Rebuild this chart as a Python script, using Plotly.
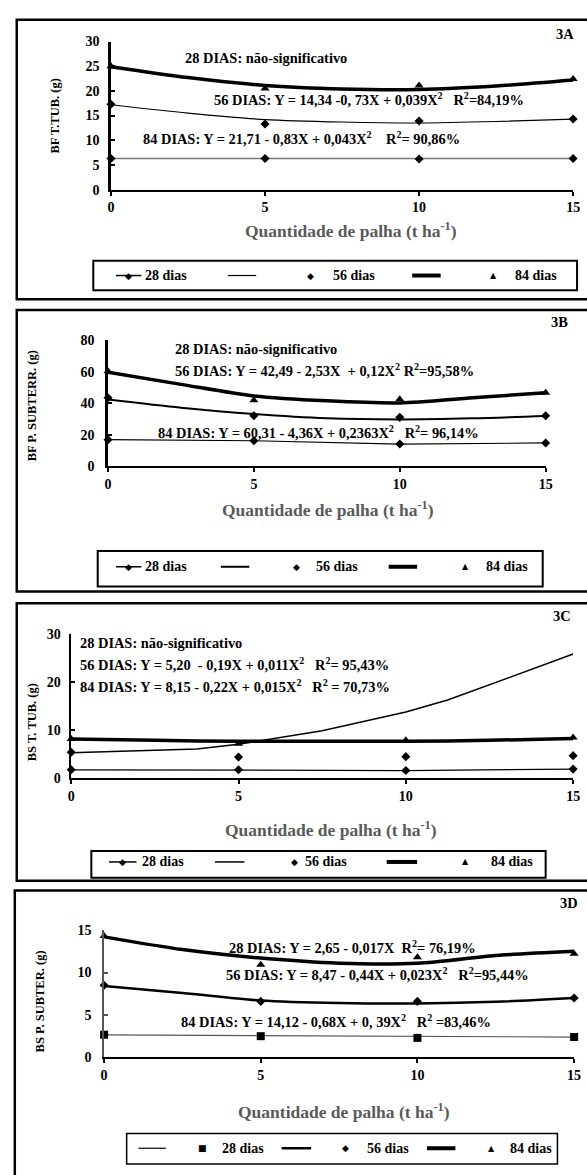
import plotly.graph_objects as go

# ---------------- data ----------------
x_pts = [0, 5, 10, 15]
x_fit = [0, 2.5, 5, 7.5, 10, 12.5, 15]
legend_labels = ["28 dias", "56 dias", "84 dias"]
x_ticks = [0, 5, 10, 15]

# 3A - BF T.TUB.
a_28 = [6.3, 6.3, 6.2, 6.3]
a_56 = [17.3, 13.3, 13.9, 14.3]
a_84 = [25.0, 20.5, 21.1, 22.4]
a_56_fit = [17.2, 15.5, 14.2, 13.7, 13.5, 13.8, 14.3]
a_84_fit = [24.9, 22.7, 21.1, 20.4, 20.3, 21.0, 22.2]

# 3B - BF P. SUBTERR.
b_28 = [16.8, 16.1, 14.0, 14.7]
b_56 = [43.5, 32.0, 31.0, 32.0]
b_84 = [60.3, 41.9, 42.5, 46.7]
b_56_fit = [42.3, 37.1, 33.1, 30.4, 29.7, 30.4, 31.9]
b_84_fit = [59.7, 52.0, 44.6, 41.5, 40.2, 43.5, 46.7]

# 3C - BS T. TUB.
c_28 = [1.65, 1.65, 1.5, 1.8]
c_56 = [5.3, 4.3, 4.4, 4.6]
c_84 = [8.1, 7.1, 7.8, 8.4]
c_56_fit_x = [0, 3.75, 5, 7.5, 10, 11.25, 15]
c_56_fit = [5.2, 6.0, 7.0, 9.8, 13.7, 16.2, 25.8]
c_84_fit = [8.1, 7.8, 7.6, 7.6, 7.6, 7.8, 8.2]

# 3D - BS P. SUBTER.
d_28 = [2.67, 2.5, 2.3, 2.4]
d_28_fit_x = [0, 15]
d_28_fit = [2.65, 2.40]
d_56 = [8.5, 6.6, 6.6, 7.0]
d_84 = [14.3, 10.9, 11.8, 12.2]
d_56_fit = [8.4, 7.6, 6.7, 6.4, 6.35, 6.55, 7.0]
d_84_fit = [14.2, 12.7, 11.7, 11.1, 11.1, 12.0, 12.5]

# ---------------- layout helpers ----------------
W, H = 587, 1175
FONT = "Liberation Serif"
ANN = 14.4
TICK = 14


def fx(p):
    return p / W


def fy(p):
    return 1 - p / H


fig = go.Figure()
annotations = []
shapes = []


def ax_names(n):
    return ("x", "y") if n == 1 else (f"x{n}", f"y{n}")


def add(n, x, y, mode, color="black", width=1, symbol=None, msize=7, shape="linear"):
    xa, ya = ax_names(n)
    kw = dict(x=x, y=y, xaxis=xa, yaxis=ya, mode=mode, showlegend=False,
              cliponaxis=False, hoverinfo="skip")
    if "lines" in mode:
        kw["line"] = dict(color=color, width=width, shape=shape, smoothing=0.8)
    if "markers" in mode:
        kw["marker"] = dict(symbol=symbol, size=msize, color="black")
    fig.add_trace(go.Scatter(**kw))


def text(x, y, s, size=ANN, anchor="left", color="black", angle=0, valign="middle"):
    annotations.append(dict(x=fx(x), y=fy(y), xref="paper", yref="paper", text=s,
                            showarrow=False, xanchor=anchor, yanchor=valign,
                            textangle=angle,
                            font=dict(family=FONT, size=size, color=color, weight="bold")))


def glyph(x, y, g, size):
    annotations.append(dict(x=fx(x), y=fy(y), xref="paper", yref="paper", text=g,
                            showarrow=False, xanchor="center", yanchor="middle",
                            font=dict(family="DejaVu Sans", size=size, color="black")))


def hline(x0, x1, y, width, color="black"):
    shapes.append(dict(type="line", xref="paper", yref="paper", x0=fx(x0), x1=fx(x1),
                       y0=fy(y), y1=fy(y), line=dict(color=color, width=width)))


def rect(x0, y0, x1, y1, width):
    shapes.append(dict(type="rect", xref="paper", yref="paper", x0=fx(x0), x1=fx(x1),
                       y0=fy(y0), y1=fy(y1), line=dict(color="black", width=width),
                       fillcolor="rgba(0,0,0,0)"))


def axes(n, px0, px1, py_bottom, py_top, ymax, dtick, ystand, ylw, ycolor="black"):
    xa_key = "xaxis" if n == 1 else f"xaxis{n}"
    ya_key = "yaxis" if n == 1 else f"yaxis{n}"
    xa, ya = ax_names(n)
    tf = dict(family=FONT, size=TICK, color="black", weight="bold")
    fig.layout[xa_key] = dict(domain=[fx(px0), fx(px1)], range=[0, 15], tickvals=x_ticks,
                              anchor=ya, showline=True, linewidth=2, linecolor="black",
                              ticks="outside", ticklen=4, tickwidth=1.5, tickcolor="black",
                              showgrid=False, zeroline=False, tickfont=tf,
                              ticklabelstandoff=0, fixedrange=True)
    fig.layout[ya_key] = dict(domain=[fy(py_bottom), fy(py_top)], range=[0, ymax],
                              dtick=dtick, anchor=xa, showline=True, linewidth=ylw,
                              linecolor=ycolor, ticks="inside", ticklen=4, tickwidth=1.5,
                              tickcolor=ycolor, showgrid=False, zeroline=False, tickfont=tf,
                              ticklabelstandoff=ystand, fixedrange=True)


XT = "Quantidade de palha (t ha<sup>-1</sup>)"
XT_COLOR = "#5a5a5a"
XT_SIZE = 17.5
YT_SIZE = 12.5


def legend_row(y, items):
    for it in items:
        kind = it[0]
        if kind == "line":
            hline(it[1], it[2], y, it[3])
        elif kind == "glyph":
            glyph(it[1], y, it[2], it[3])
        elif kind == "text":
            text(it[1], y, it[2], size=14)


# ---------------- Panel A ----------------
axes(1, 109, 580, 185, 35, 30, 5, 6, 2.5)
add(1, x_pts, a_28, "lines+markers", color="#7a7a7a", width=1.5, symbol="diamond", msize=7)
add(1, x_fit, a_56_fit, "lines", width=1.2, shape="spline")
add(1, x_pts, a_56, "markers", symbol="diamond", msize=7)
add(1, x_fit, a_84_fit, "lines", width=3.5, shape="spline")
add(1, x_pts, a_84, "markers", symbol="triangle-up", msize=8)
rect(13, 13, 600, 296, 2.5)
text(583, 27, "3A", anchor="right")
text(182, 52, "28 DIAS: não-significativo")
text(212, 93, "56 DIAS: Y = 14,34 -0, 73X + 0,039X<sup>2</sup>\u00a0\u00a0\u00a0R<sup>2</sup>=84,19%")
text(140, 133, "84 DIAS: Y = 21,71 - 0,83X + 0,043X<sup>2</sup>\u00a0\u00a0\u00a0\u00a0R<sup>2</sup>= 90,86%")
text(52, 111, "BF T.TUB. (g)", angle=-90, anchor="center", size=YT_SIZE)
text(354, 226, XT, anchor="center", size=XT_SIZE, color=XT_COLOR)
rect(91, 257, 584, 287, 2)
legend_row(272, [("line", 114, 140, 1.5), ("glyph", 127, "◆", 9), ("text", 142, legend_labels[0]),
                 ("line", 228, 257, 1.2), ("glyph", 312, "◆", 9), ("text", 333, legend_labels[1]),
                 ("line", 416, 445, 4), ("glyph", 499, "▲", 8), ("text", 519, legend_labels[2])])

# ---------------- Panel B ----------------
axes(2, 106, 552, 465, 337.7, 80, 20, 8, 2.5)
add(2, x_pts, b_28, "lines+markers", width=1.2, symbol="diamond", msize=7)
add(2, x_fit, b_56_fit, "lines", width=2, shape="spline")
add(2, x_pts, b_56, "markers", symbol="diamond", msize=7)
add(2, x_fit, b_84_fit, "lines", width=3.5, shape="spline")
add(2, x_pts, b_84, "markers", symbol="triangle-up", msize=8)
rect(13, 307, 600, 592, 2.5)
text(577, 319, "3B", anchor="right")
text(172, 346, "28 DIAS: não-significativo")
text(172, 368, "56 DIAS: Y = 42,49 - 2,53X\u00a0\u00a0+ 0,12X<sup>2</sup> R<sup>2</sup>=95,58%")
text(155, 431, "84 DIAS: Y = 60,31 - 4,36X + 0,2363X<sup>2</sup>\u00a0\u00a0\u00a0R<sup>2</sup>= 96,14%")
text(28, 404, "BF P. SUBTERR. (g)", angle=-90, anchor="center", size=YT_SIZE)
text(330, 508, XT, anchor="center", size=XT_SIZE, color=XT_COLOR)
rect(95.5, 551, 549, 587, 2)
legend_row(567, [("line", 114, 140, 1.5), ("glyph", 127, "◆", 9), ("text", 142, legend_labels[0]),
                 ("line", 221, 250, 2), ("glyph", 298, "◆", 9), ("text", 316, legend_labels[1]),
                 ("line", 392, 421, 4), ("glyph", 470, "▲", 8), ("text", 489, legend_labels[2])])

# ---------------- Panel C ----------------
axes(3, 68.5, 580, 780.7, 635, 30, 10, 6, 1.5)
add(3, x_pts, c_28, "lines+markers", width=1.2, symbol="diamond", msize=7)
add(3, c_56_fit_x, c_56_fit, "lines", width=1.5)
add(3, x_pts, c_56, "markers", symbol="diamond", msize=7)
add(3, x_fit, c_84_fit, "lines", width=3.5, shape="spline")
add(3, x_pts, c_84, "markers", symbol="triangle-up", msize=8)
rect(13, 604, 600, 885, 2.5)
text(580, 617, "3C", anchor="right")
text(75, 644, "28 DIAS: não-significativo")
text(75, 666, "56 DIAS: Y = 5,20\u00a0\u00a0- 0,19X + 0,011X<sup>2</sup>\u00a0\u00a0\u00a0R<sup>2</sup>= 95,43%")
text(75, 688, "84 DIAS: Y = 8,15 - 0,22X + 0,015X<sup>2</sup>\u00a0\u00a0\u00a0R<sup>2</sup>\u00a0= 70,73%")
text(28, 724, "BS T. TUB. (g)", angle=-90, anchor="center", size=YT_SIZE)
text(333, 833, XT, anchor="center", size=XT_SIZE, color=XT_COLOR)
rect(89, 855, 552, 882, 2)
legend_row(866, [("line", 107, 135, 1.5), ("glyph", 121, "◆", 9), ("text", 139, legend_labels[0]),
                 ("line", 215, 245, 1.5), ("glyph", 296, "◆", 9), ("text", 305, legend_labels[1]),
                 ("line", 390, 421, 4), ("glyph", 470, "▲", 8), ("text", 494, legend_labels[2])])

# ---------------- Panel D ----------------
axes(4, 102, 581, 1064, 935, 15, 5, 8, 1.5, ycolor="#555555")
add(4, d_28_fit_x, d_28_fit, "lines", color="#555555", width=1.2)
add(4, x_pts, d_28, "markers", symbol="square", msize=8)
add(4, x_fit, d_56_fit, "lines", width=2.5, shape="spline")
add(4, x_pts, d_56, "markers", symbol="diamond", msize=7)
add(4, x_fit, d_84_fit, "lines", width=3.5, shape="spline")
add(4, x_pts, d_84, "markers", symbol="triangle-up", msize=8)
rect(11, 895, 600, 1190, 2.5)
text(587, 908, "3D", anchor="right")
text(227, 952, "28 DIAS: Y = 2,65 - 0,017X\u00a0\u00a0R<sup>2</sup>= 76,19%")
text(224, 980, "56 DIAS: Y = 8,47 - 0,44X + 0,023X<sup>2</sup>\u00a0\u00a0\u00a0R<sup>2</sup>=95,44%")
text(178, 1027, "84 DIAS: Y = 14,12 - 0,68X + 0, 39X<sup>2</sup>\u00a0\u00a0\u00a0R<sup>2</sup>\u00a0=83,46%")
text(37, 1007, "BS P. SUBTER. (g)", angle=-90, anchor="center", size=YT_SIZE)
text(347, 1118, XT, anchor="center", size=XT_SIZE, color=XT_COLOR)
rect(125, 1141, 564, 1172, 1.5)
legend_row(1156, [("line", 137, 165, 1.2), ("glyph", 202, "■", 9), ("text", 220, legend_labels[0]),
                  ("line", 283, 313, 2.5), ("glyph", 348, "◆", 9), ("text", 368, legend_labels[1]),
                  ("line", 431, 460, 4), ("glyph", 497, "▲", 8), ("text", 514, legend_labels[2])])

fig.update_layout(width=W, height=H, margin=dict(l=0, r=0, t=0, b=0),
                  paper_bgcolor="white", plot_bgcolor="white",
                  annotations=annotations, shapes=shapes, showlegend=False)

fig.write_html("out.html",
               config={"displayModeBar": False},
               post_script="document.body.style.margin='0px';"
                           "document.body.style.overflow='hidden';")
